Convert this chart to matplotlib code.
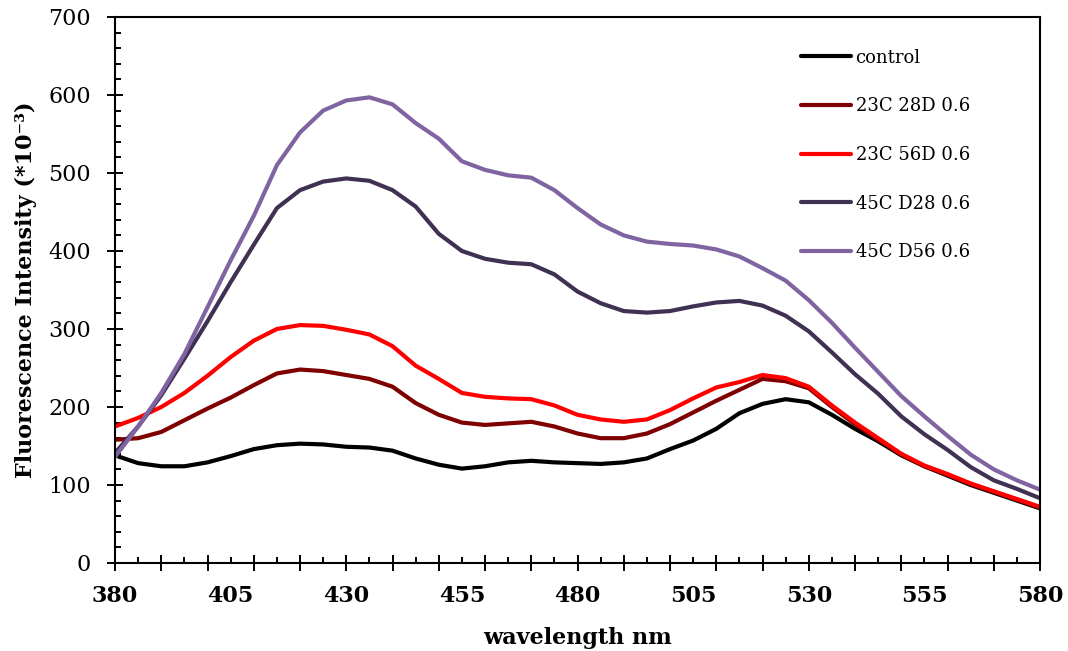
import matplotlib
matplotlib.use("Agg")
import matplotlib.pyplot as plt
from matplotlib.ticker import MultipleLocator, NullFormatter

# emission spectra, every 5 nm
wavelength = list(range(380, 585, 5))

control = [138, 128, 124, 124, 129, 137, 146, 151, 153, 152,
           149, 148, 144, 134, 126, 121, 124, 129, 131, 129,
           128, 127, 129, 134, 146, 157, 172, 192, 204, 210,
           206, 190, 172, 156, 138, 124, 112, 100, 90, 80, 70]

c23_d28 = [158, 160, 168, 183, 198, 212, 228, 243, 248, 246,
           241, 236, 226, 205, 190, 180, 177, 179, 181, 175,
           166, 160, 160, 166, 178, 193, 208, 222, 236, 233,
           224, 200, 178, 158, 139, 124, 113, 101, 91, 81, 71]

c23_d56 = [175, 186, 200, 218, 240, 264, 285, 300, 305, 304,
           299, 293, 278, 253, 236, 218, 213, 211, 210, 202,
           190, 184, 181, 184, 196, 211, 225, 232, 241, 237,
           226, 202, 180, 160, 140, 125, 114, 102, 92, 82, 72]

c45_d28 = [141, 175, 215, 262, 310, 360, 408, 455, 478, 489,
           493, 490, 478, 457, 422, 400, 390, 385, 383, 370,
           348, 333, 323, 321, 323, 329, 334, 336, 330, 317,
           297, 270, 242, 217, 188, 165, 145, 123, 106, 95, 83]

c45_d56 = [136, 175, 218, 268, 328, 388, 445, 510, 552, 580,
           593, 597, 588, 564, 544, 515, 504, 497, 494, 478,
           455, 434, 420, 412, 409, 407, 402, 393, 378, 362,
           337, 308, 276, 245, 214, 188, 163, 139, 120, 106, 94]

series = [
    ("control", control, "#000000"),
    ("23C 28D 0.6", c23_d28, "#7f0000"),
    ("23C 56D 0.6", c23_d56, "#ff0000"),
    ("45C D28 0.6", c45_d28, "#403152"),
    ("45C D56 0.6", c45_d56, "#8064a2"),
]

x_labels = list(range(380, 581, 25))

plt.rcParams["font.family"] = ["DejaVu Serif"]

fig = plt.figure(figsize=(10.68, 6.51), dpi=100)
ax = fig.add_axes([0.1077, 0.1352, 0.8661, 0.8387])

for name, vals, col in series:
    ax.plot(wavelength, vals, color=col, lw=3.0, label=name,
            solid_capstyle="round")

ax.set_xlim(380, 580)
ax.set_ylim(0, 700)

# tick marks every 10 / 5 nm, labels every 25 nm (done on a second axis)
ax.xaxis.set_major_locator(MultipleLocator(10))
ax.xaxis.set_minor_locator(MultipleLocator(5))
ax.xaxis.set_major_formatter(NullFormatter())
ax.yaxis.set_major_locator(MultipleLocator(100))
ax.yaxis.set_minor_locator(MultipleLocator(20))

for lbl in ax.get_yticklabels():
    lbl.set_fontsize(16)

ax.tick_params(axis="both", which="major", direction="inout", length=11,
               width=1.4, color="black")
ax.tick_params(axis="both", which="minor", direction="in", length=4.5,
               width=1.4)
ax.tick_params(axis="y", which="major", pad=12)

for sp in ax.spines.values():
    sp.set_linewidth(1.5)

sec = ax.secondary_xaxis("bottom")
sec.set_xticks(x_labels)
sec.set_xticklabels([str(v) for v in x_labels], fontsize=16, fontweight="bold")
sec.tick_params(axis="x", length=0, pad=16)
sec.spines["bottom"].set_visible(False)
sec.set_xlabel("wavelength nm", fontsize=16, fontweight="bold", labelpad=14)

ax.set_ylabel("Fluorescence Intensity (*10\u207b\u00b3)", fontsize=16,
              fontweight="bold", labelpad=8)

ax.legend(loc="upper left", bbox_to_anchor=(0.7235, 0.972), frameon=False,
          fontsize=13, handlelength=2.8, handletextpad=0.25,
          labelspacing=1.7)

fig.savefig("out.png", dpi=100)
